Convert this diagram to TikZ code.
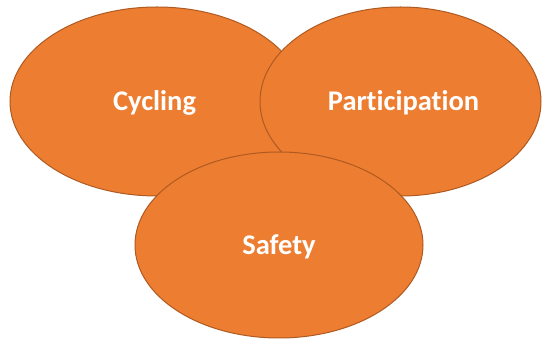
\documentclass[tikz,border=0pt]{standalone}
\usepackage{fontspec}
\setmainfont{Carlito}[RawFeature=-liga]
\usetikzlibrary{shapes.geometric}
\definecolor{orfill}{HTML}{ED7D31}
\definecolor{orline}{HTML}{AE5A21}
\begin{document}
\begin{tikzpicture}[x=1pt,y=1pt,
  blob/.style={ellipse,draw=orline,fill=orfill,line width=1pt,inner sep=0pt},
  lbl/.style={text=white,font=\bfseries\fontsize{28.5}{32}\selectfont}]
\useasboundingbox (0,0) rectangle (544,340);
\node[blob,minimum width=294,minimum height=189] (cyc) at (157,238.5) {};
\node[blob,minimum width=281,minimum height=189] (par) at (400.5,238.5) {};
\node[blob,minimum width=288,minimum height=186] (saf) at (279,95) {};
\node[lbl] (tc) at (154.5,237) {Cycling};
\node[lbl] (tp) at (403.5,237) {Participation};
\node[lbl] (ts) at (279,93) {Safety};
\end{tikzpicture}
\end{document}
